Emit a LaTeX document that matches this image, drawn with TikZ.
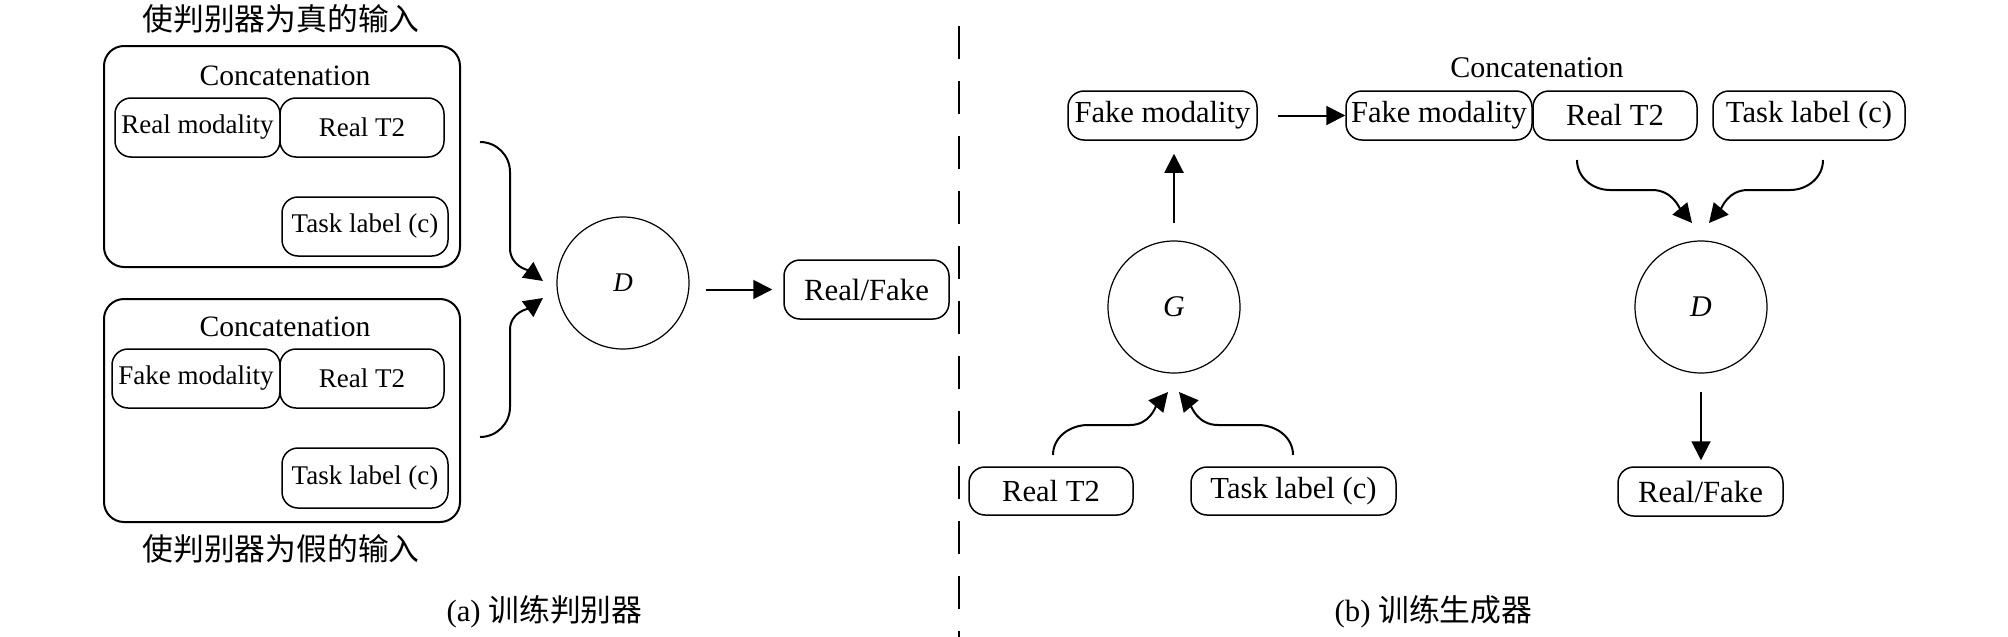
\documentclass[tikz,border=0pt]{standalone}
\usepackage{fontspec}
\setmainfont{Liberation Serif}
\newfontfamily\cjk{Noto Sans CJK SC}
\usetikzlibrary{arrows.meta,calc}
\begin{document}
\begin{tikzpicture}[x=0.5pt,y=-0.5pt,
  box/.style={draw, rounded corners=8pt, line width=0.75pt, inner sep=0pt, minimum height=29.5pt, font=\fontsize{13.5}{16}\selectfont},
  rbox/.style={box, minimum height=24.5pt, font=\fontsize{15.3}{18}\selectfont},
  outerbox/.style={draw, rounded corners=10pt, line width=1pt, inner sep=0pt},
  circ/.style={draw, circle, line width=0.6pt, minimum size=66pt, inner sep=0pt},
  arr/.style={-{Triangle[length=9.5pt,width=9.5pt]}, line width=1pt},
  cn/.style={inner sep=0pt, font=\cjk\fontsize{15.4}{18}\selectfont},
  lbl/.style={inner sep=0pt, font=\fontsize{14.8}{18}\selectfont},
  captxt/.style={inner sep=0pt, font=\fontsize{15.4}{18}\selectfont},
  dashline/.style={line width=1pt, dash pattern=on 16.5pt off 11pt}]
\useasboundingbox (0,0) rectangle (2008,637);

% ---------- left panel ----------
\node[cn] (title1) at (281,19) {使判别器为真的输入};
\node[outerbox, minimum width=178pt, minimum height=110.5pt] (box1) at (282,156.5) {};
\node[lbl] (cat1) at (285,76) {Concatenation};
\node[box, minimum width=82.5pt] (rm1) at (197.5,127.5) {Real modality};
\node[box, minimum width=82pt] (rt1) at (362,127.5) {Real T2};
\node[box, minimum width=83pt] (tl1) at (365,226.5) {Task label (c)};

\node[outerbox, minimum width=178pt, minimum height=111.5pt] (box2) at (282,410.5) {};
\node[lbl] (cat2) at (285,326.5) {Concatenation};
\node[box, minimum width=84pt] (fm2) at (196,378.5) {Fake modality};
\node[box, minimum width=82pt] (rt2) at (362,378.5) {Real T2};
\node[box, minimum width=83pt, minimum height=30pt] (tl2) at (365,478) {Task label (c)};
\node[cn] (title2) at (281,549) {使判别器为假的输入};

\node[circ, font=\fontsize{13.5}{16}\selectfont\itshape] (Dl) at (623,283) {D};
\node[box, minimum width=82.5pt, font=\fontsize{15.4}{18}\selectfont] (RFl) at (866.5,289.5) {Real/Fake};

\coordinate (s1) at (480,142);
\coordinate (s1a) at (510,172);
\coordinate (s1b) at (510,248);
\coordinate (t1) at (543,281);
\draw[arr] (s1) to[out=0,in=90] (s1a) -- (s1b) to[out=-90,in=144] (t1);

\coordinate (s2) at (480,437);
\coordinate (s2a) at (510,407);
\coordinate (s2b) at (510,330);
\coordinate (t2) at (543,298);
\draw[arr] (s2) to[out=0,in=-90] (s2a) -- (s2b) to[out=90,in=-144] (t2);

\draw[arr, shorten <=8pt, shorten >=5.5pt] (Dl.east |- RFl.west) -- (RFl.west);

\node[captxt] (capa) at (544.5,612) {(a) {\cjk 训练判别器}};

% ---------- divider ----------
\coordinate (dtop) at (959,26);
\coordinate (dbot) at (959,640);
\draw[dashline] (dtop) -- (dbot);

% ---------- right panel ----------
\node[rbox, minimum width=94.5pt] (gout) at (1162.5,115.5) {Fake modality};
\node[lbl, font=\fontsize{15}{18}\selectfont] (cat3) at (1537,68) {Concatenation};
\node[rbox, minimum width=93pt] (cfm) at (1439,115.5) {Fake modality};
\node[rbox, minimum width=82pt] (crt) at (1615,115.5) {Real T2};
\node[rbox, minimum width=96pt] (ctl) at (1809,115.5) {Task label (c)};

\node[circ, font=\fontsize{15}{18}\selectfont\itshape] (G) at (1174,307) {G};
\node[rbox, minimum width=82pt, minimum height=24pt] (brt) at (1051,491) {Real T2};
\node[rbox, minimum width=102.5pt, minimum height=24pt] (btl) at (1293.5,491) {Task label (c)};

\node[circ, font=\fontsize{15}{18}\selectfont\itshape] (Dr) at (1701,307) {D};
\node[rbox, minimum width=82.5pt, font=\fontsize{15.4}{18}\selectfont] (RFr) at (1700.5,491.5) {Real/Fake};

\draw[arr, shorten <=10pt] (gout.east) -- (cfm.west);
\draw[arr, shorten <=8.5pt, shorten >=6.5pt] (G.north) -- (G.north |- gout.south);
\draw[arr, shorten <=9pt, shorten >=3pt] (Dr.south) -- (Dr.south |- RFr.north);

\coordinate (b1) at (1053,455);
\coordinate (b1a) at (1088,425);
\coordinate (b1b) at (1130,425);
\coordinate (g1) at (1168,392);
\draw[arr] (b1) to[out=90,in=180] (b1a) -- (b1b) to[out=0,in=230] (g1);

\coordinate (b2) at (1293,455);
\coordinate (b2a) at (1258,425);
\coordinate (b2b) at (1218,425);
\coordinate (g2) at (1179,392);
\draw[arr] (b2) to[out=90,in=0] (b2a) -- (b2b) to[out=180,in=-50] (g2);

\coordinate (c1) at (1577,160);
\coordinate (c1a) at (1610,190);
\coordinate (c1b) at (1652,190);
\coordinate (d1) at (1692,223);
\draw[arr] (c1) to[out=-90,in=180] (c1a) -- (c1b) to[out=0,in=130] (d1);

\coordinate (c2) at (1823,160);
\coordinate (c2a) at (1790,190);
\coordinate (c2b) at (1748,190);
\coordinate (d2) at (1709,223);
\draw[arr] (c2) to[out=-90,in=0] (c2a) -- (c2b) to[out=180,in=50] (d2);

\node[captxt] (capb) at (1433.5,612) {(b) {\cjk 训练生成器}};
\end{tikzpicture}
\end{document}
